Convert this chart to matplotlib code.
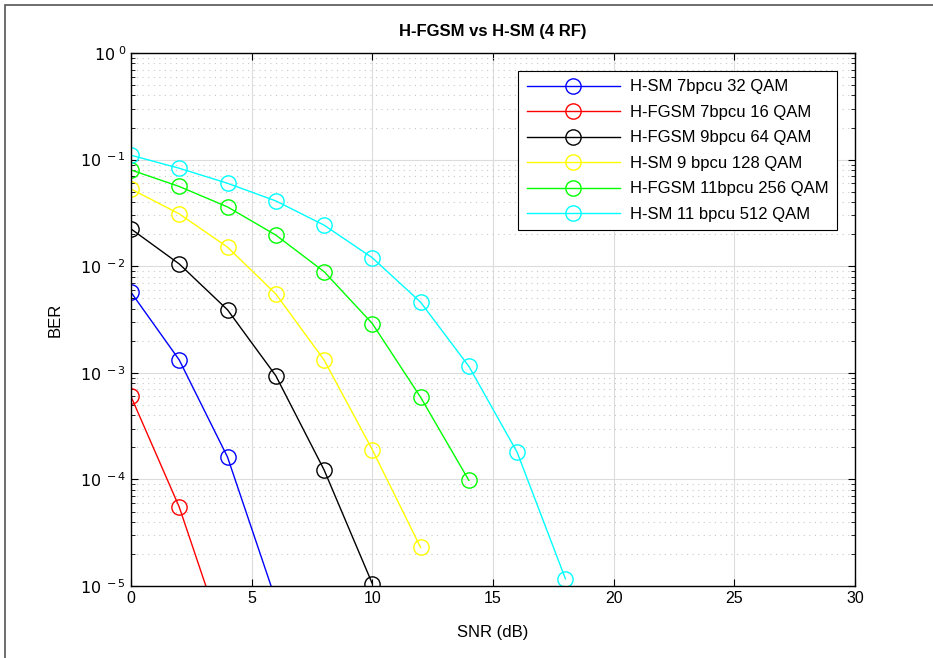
import numpy as np
import matplotlib.pyplot as plt
from matplotlib.ticker import LogLocator, FixedLocator, NullFormatter
from matplotlib.patches import Rectangle

snr = [0, 2, 4, 6, 8, 10, 12, 14, 16, 18]

ber_hsm_32 = [5.7e-3, 1.32e-3, 1.62e-4, 7.4e-6]
ber_hfgsm_16 = [6.0e-4, 5.5e-5, 2.5e-6]
ber_hfgsm_64 = [0.0224, 0.0105, 3.9e-3, 9.4e-4, 1.23e-4, 1.05e-5]
ber_hsm_128 = [0.053, 0.031, 0.0151, 5.5e-3, 1.32e-3, 1.9e-4, 2.3e-5]
ber_hfgsm_256 = [0.080, 0.056, 0.036, 0.0196, 8.9e-3, 2.9e-3, 5.9e-4, 9.8e-5]
ber_hsm_512 = [0.110, 0.083, 0.060, 0.041, 0.0243, 0.012, 4.6e-3, 1.15e-3, 1.8e-4, 1.17e-5]

labels = ['H-SM 7bpcu 32 QAM', 'H-FGSM 7bpcu 16 QAM', 'H-FGSM 9bpcu 64 QAM',
          'H-SM 9 bpcu 128 QAM', 'H-FGSM 11bpcu 256 QAM', 'H-SM 11 bpcu 512 QAM']
colors = ['#0000ff', '#ff0000', '#000000', '#ffff00', '#00ff00', '#00ffff']
series = [ber_hsm_32, ber_hfgsm_16, ber_hfgsm_64, ber_hsm_128, ber_hfgsm_256, ber_hsm_512]

plt.rcParams['font.family'] = ['Liberation Sans', 'DejaVu Sans']

fig = plt.figure(figsize=(9.33, 6.58), dpi=100)
ax = fig.add_axes([0.1404, 0.1094, 0.776, 0.810])

# frame of the screenshot
fig.patches.append(Rectangle((5 / 933, -0.1), 1.2, 1.0 - 5 / 658 + 0.1, transform=fig.transFigure,
                             fill=False, edgecolor='#555555', linewidth=1.2))

for y, c, lab in zip(series, colors, labels):
    ax.semilogy(snr[:len(y)], y, '-o', color=c, markerfacecolor='none', markeredgecolor=c,
                markersize=11, linewidth=1.0, label=lab)

ax.set_xlim(0, 30)
ax.set_ylim(1e-5, 1e0)
ax.set_xticks([0, 5, 10, 15, 20, 25, 30])
ax.yaxis.set_major_locator(FixedLocator([1e-5, 1e-4, 1e-3, 1e-2, 1e-1, 1e0]))
ax.set_yticklabels([r'$10^{\ -5}$', r'$10^{\ -4}$', r'$10^{\ -3}$', r'$10^{\ -2}$',
                    r'$10^{\ -1}$', r'$10^{\ 0}$'])
ax.yaxis.set_minor_locator(LogLocator(base=10, subs=np.arange(2, 10), numticks=20))
ax.yaxis.set_minor_formatter(NullFormatter())

ax.grid(True, which='major', color='#dcdcdc', linestyle='-', linewidth=0.8)
ax.grid(True, which='minor', axis='y', color='#c8c8c8', linestyle=(0, (1, 4)), linewidth=0.8)
ax.tick_params(which='both', direction='in', top=True, right=True, labelsize=11.5)
ax.tick_params(which='major', length=5)
ax.tick_params(which='minor', length=3)
for s in ax.spines.values():
    s.set_linewidth(1.0)

ax.set_title('H-FGSM vs H-SM (4 RF)', fontsize=12, fontweight='bold', pad=12)
ax.set_xlabel('SNR (dB)', fontsize=12, labelpad=14)
ax.set_ylabel('BER', fontsize=12, labelpad=12)

leg = ax.legend(loc='upper right', bbox_to_anchor=(837 / 933, 1 - 71 / 658),
                bbox_transform=fig.transFigure, fontsize=12, fancybox=False,
                edgecolor='black', framealpha=1, handlelength=5.6, labelspacing=0.63,
                borderpad=0.5, handletextpad=0.6, borderaxespad=0)
leg.get_frame().set_linewidth(0.8)

fig.savefig('out.png', dpi=100)
